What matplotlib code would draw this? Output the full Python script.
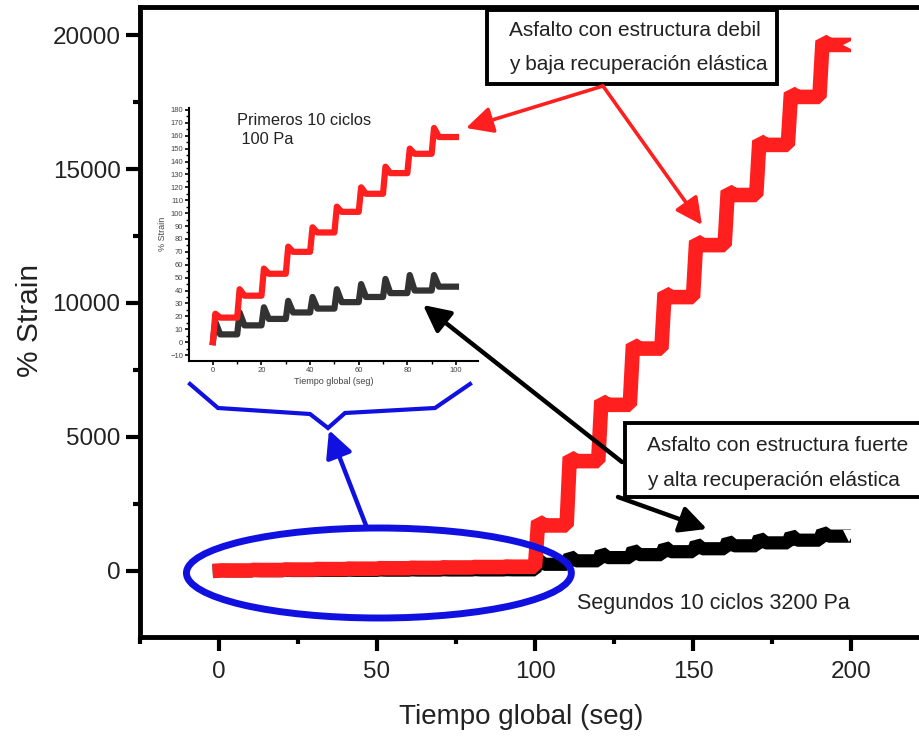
import numpy as np
import matplotlib.pyplot as plt
from matplotlib.patches import Ellipse, Rectangle, FancyArrowPatch
from matplotlib.lines import Line2D
from matplotlib.ticker import MultipleLocator

plt.rcParams['font.family'] = ['Liberation Sans', 'DejaVu Sans']

W, H = 919, 736

ciclos_100 = [0, 10, 20, 30, 40, 50, 60, 70, 80, 90]
rojo_pico_100 = [22, 41, 57, 74, 89, 105, 120, 136, 150, 166]
rojo_fin_100 = [19, 36, 53, 70, 85, 101, 115, 131, 146, 159]
negro_pico_100 = [16, 23, 27, 32, 35, 41, 45, 49, 52, 52]
negro_fin_100 = [6, 13, 18, 23, 26, 31, 35, 38, 40, 43]

# segundos 10 ciclos, 3200 Pa
ciclos_3200 = [100, 110, 120, 130, 140, 150, 160, 170, 180, 190]
rojo_pico_3200 = [1850, 4250, 6350, 8450, 10370, 12310, 14180, 16050, 17840, 19780]
rojo_fin_3200 = [1700, 4100, 6200, 8300, 10220, 12160, 14030, 15900, 17690, 19630]
negro_pico_3200 = [420, 560, 680, 800, 910, 1020, 1130, 1240, 1350, 1460]
negro_fin_3200 = [250, 380, 500, 610, 720, 830, 940, 1050, 1150, 1300]

xticks_main = [0, 50, 100, 150, 200]
yticks_main = [0, 5000, 10000, 15000, 20000]

ROJO = '#ff1f1f'
AZUL = '#1010e0'


def curva(t0s, picos, fines):
    # creep rapido hasta el pico, recuperacion y tramo plano
    x, y = [], []
    for t0, p, f in zip(t0s, picos, fines):
        x += [t0 + 1, t0 + 3, t0 + 10]
        y += [p, f, f]
    return x, y


def fp(x, y):
    # pixeles de la figura -> fraccion
    return (x / W, 1 - y / H)


fig = plt.figure(figsize=(W / 100, H / 100), dpi=100)

# ---- grafico principal
ax = fig.add_axes([140 / W, 1 - 637 / H, (939.5 - 140) / W, (637 - 7) / H])
ax.set_xlim(-25, 228)
ax.set_ylim(-2463, 21045)

xr1, yr1 = curva(ciclos_100, rojo_pico_100, rojo_fin_100)
xr2, yr2 = curva(ciclos_3200, rojo_pico_3200, rojo_fin_3200)
xn1, yn1 = curva(ciclos_100, negro_pico_100, negro_fin_100)
xn2, yn2 = curva(ciclos_3200, negro_pico_3200, negro_fin_3200)

ax.plot([-2] + xn1 + xn2, [0] + yn1 + yn2, color='black', lw=9.5,
        solid_joinstyle='bevel', solid_capstyle='butt', zorder=2)
ax.plot([-2] + xr1 + xr2, [0] + yr1 + yr2, color=ROJO, lw=10.5,
        solid_joinstyle='bevel', solid_capstyle='butt', zorder=3)
ax.plot([ciclos_3200[-1] + 9.5], [negro_fin_3200[-1]], marker='v', ms=9,
        mfc='white', mew=0, ls='none', zorder=4)
ax.plot([ciclos_3200[-1] + 9.5], [rojo_fin_3200[-1]], marker='<', ms=9,
        mfc='white', mew=0, ls='none', zorder=4)

ax.set_xticks(xticks_main)
ax.set_yticks(yticks_main)
ax.xaxis.set_minor_locator(MultipleLocator(25))
ax.yaxis.set_minor_locator(MultipleLocator(2500))
ax.tick_params(which='major', direction='out', length=10, width=3,
               labelsize=17.5, labelcolor='#222')
ax.tick_params(which='minor', direction='out', length=5, width=3)
ax.tick_params(axis='x', pad=7)
ax.tick_params(axis='y', pad=4)
for s in ax.spines.values():
    s.set_linewidth(3.5)
ax.set_xlabel('Tiempo global (seg)', fontsize=20, color='#222')
ax.set_ylabel('% Strain', fontsize=21.5, color='#222')
ax.xaxis.set_label_coords(0.4766, -0.106)
ax.yaxis.set_label_coords(-0.12, 0.503)

ax.add_patch(Ellipse((50.6, -75), 121.8, 3358, fill=False, ec=AZUL, lw=5,
                     clip_on=False, zorder=5))

# ---- recuadro
ai = fig.add_axes([189.3 / W, 1 - 360.7 / H, (478.3 - 189.3) / W, (360.7 - 108) / H])
ai.set_facecolor('none')
ai.set_xlim(-9.7, 109.2)
ai.set_ylim(-14.4, 181.5)
ai.plot([0] + xn1, [0] + yn1, color='#333', lw=4.5, solid_joinstyle='round')
ai.plot([0] + xr1, [0] + yr1, color=ROJO, lw=4.5, solid_joinstyle='round')
ai.spines['top'].set_visible(False)
ai.spines['right'].set_visible(False)
for s in ['left', 'bottom']:
    ai.spines[s].set_linewidth(1.5)
ai.set_xticks(range(0, 101, 20))
ai.set_yticks(range(-10, 181, 10))
ai.xaxis.set_minor_locator(MultipleLocator(10))
ai.yaxis.set_minor_locator(MultipleLocator(5))
ai.tick_params(which='major', direction='out', length=3, width=1.2,
               labelsize=5.5, labelcolor='#444', pad=1.5)
ai.tick_params(which='minor', direction='out', length=2, width=1)
ai.set_xlabel('Tiempo global (seg)', fontsize=6.5, color='#444', labelpad=2)
ai.set_ylabel('% Strain', fontsize=6.5, color='#444', labelpad=2)

# ---- textos
fig.text(*fp(237, 113), 'Primeros 10 ciclos\n 100 Pa', fontsize=11.8,
         color='#222', va='top', linespacing=1.3)
fig.text(*fp(713, 604), 'Segundos 10 ciclos 3200 Pa', fontsize=15.5,
         color='#222', ha='center', va='center')

cajas = [
    ((487, 10, 777, 84), 509, (30, 65),
     ['Asfalto con estructura debil', 'y baja recuperación elástica']),
    ((625, 423, 935, 497), 647, (445, 481),
     ['Asfalto con estructura fuerte', 'y alta recuperación elástica']),
]
for (x0, y0, x1, y1), tx, tys, lineas in cajas:
    fig.add_artist(Rectangle(fp(x0, y1), (x1 - x0) / W, (y1 - y0) / H,
                             transform=fig.transFigure, fc='white', ec='black',
                             lw=2.8, zorder=6))
    for ty, linea in zip(tys, lineas):
        fig.text(*fp(tx, ty), linea, fontsize=15, color='#222',
                 va='center', zorder=7)

flechas = [
    ((603, 86), (466, 128), ROJO, 2.6),
    ((603, 86), (702, 225), ROJO, 2.6),
    ((622, 462), (423, 305), 'black', 3.2),
    ((618, 497), (707, 529), 'black', 3.2),
    ((367, 528), (329, 430), AZUL, 3.2),
]
for a, b, c, lw in flechas:
    fig.add_artist(FancyArrowPatch(fp(*a), fp(*b), transform=fig.transFigure,
                                   arrowstyle='-|>,head_length=0.9,head_width=0.45',
                                   mutation_scale=18, color=c, lw=lw,
                                   shrinkA=0, shrinkB=0, zorder=8))

llave_x = [190, 218, 310, 328, 345, 435, 470]
llave_y = [384, 408, 414, 428, 413, 408, 384]
fig.add_artist(Line2D([x / W for x in llave_x], [1 - y / H for y in llave_y],
                      transform=fig.transFigure, color=AZUL, lw=3,
                      solid_joinstyle='miter'))

fig.savefig('out.png', dpi=100)
